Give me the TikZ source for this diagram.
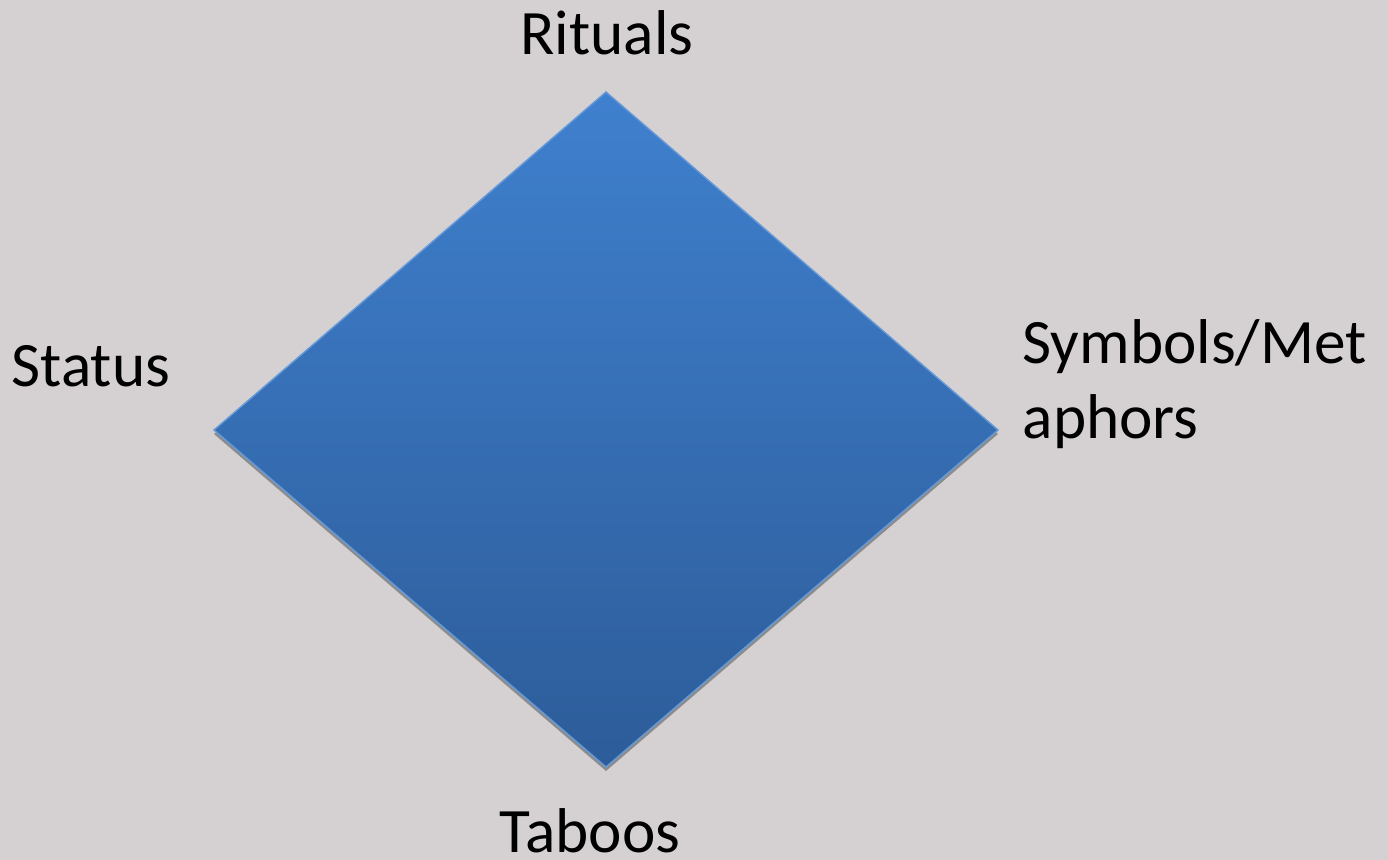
\documentclass[tikz,border=0pt]{standalone}
\usepackage{fontspec}
\setmainfont{Carlito}
\usetikzlibrary{positioning}
\definecolor{bgcol}{HTML}{D5D1D2}
\definecolor{topblue}{HTML}{3F80CE}
\definecolor{botblue}{HTML}{2D5C99}
\begin{document}
\begin{tikzpicture}
            [font=\fontsize{18}{20}\selectfont,
            every node/.style={inner sep=0pt, text=black},
            face/.style={top color=topblue, bottom color=botblue, draw=topblue!80!white, line width=0.4pt},
            shade/.style={fill=black!45}]
            \fill[bgcol] (0,0) rectangle (13.88,8.60);
            \useasboundingbox (0,0) rectangle (13.88,8.60);
            % corners of the diamond
            \coordinate (top) at (6.06,7.68);
            \coordinate (left) at (2.14,4.30);
            \coordinate (right) at (9.98,4.30);
            \coordinate (bot) at (6.06,0.93);
            \fill[shade] ([yshift=-0.04cm]left) -- ([yshift=-0.04cm]bot) -- ([yshift=-0.04cm]right) -- (top) -- cycle;
            \path[face] (top) -- (right) -- (bot) -- (left) -- cycle;
            % labels
            \node[anchor=base] (rituals) at (6.07,8.05) {Rituals};
            \node[anchor=base west] (status) at (0.11,4.73) {Status};
            \node[anchor=base west] (symbols) at (10.22,4.96) {Symbols/Met};
            \node[anchor=base west] (aphors) at (10.22,4.21) {aphors};
            \node[anchor=base] (taboos) at (5.90,0.07) {Taboos};
\end{tikzpicture}
\end{document}
